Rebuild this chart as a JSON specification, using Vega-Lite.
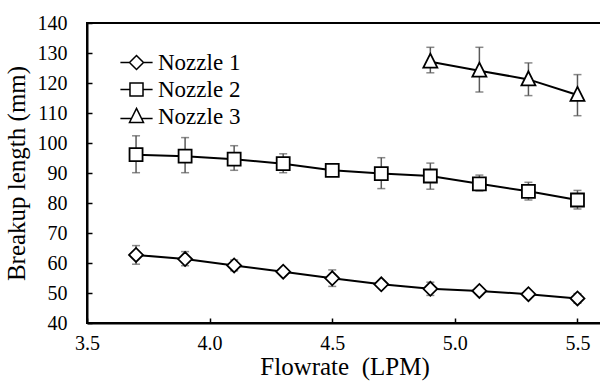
{
  "$schema": "https://vega.github.io/schema/vega-lite/v6.json",
  "autosize": "none",
  "width": 515,
  "height": 300,
  "padding": {"left": 87, "top": 23, "right": 0, "bottom": 62},
  "background": "white",
  "config": {
    "font": "serif",
    "view": {"stroke": "black", "strokeWidth": 2},
    "axis": {
      "domainColor": "black", "domainWidth": 2,
      "tickColor": "black", "tickWidth": 1.5, "tickSize": -5,
      "labelFont": "serif", "labelFontSize": 20, "labelColor": "black", "labelOverlap": false,
      "titleFont": "serif", "titleFontSize": 25, "titleFontWeight": "normal", "titleColor": "black",
      "grid": false
    },
    "legend": {
      "labelFont": "serif", "labelFontSize": 23, "labelColor": "black"
    }
  },
  "data": {"values": [
    {"nozzle": "Nozzle 1", "x": 3.7, "y": 62.7, "lo": 59.6, "hi": 65.8},
    {"nozzle": "Nozzle 1", "x": 3.9, "y": 61.3, "lo": 59.1, "hi": 63.8},
    {"nozzle": "Nozzle 1", "x": 4.1, "y": 59.2, "lo": 57.4, "hi": 61.0},
    {"nozzle": "Nozzle 1", "x": 4.3, "y": 57.1, "lo": 56.1, "hi": 58.1},
    {"nozzle": "Nozzle 1", "x": 4.5, "y": 54.9, "lo": 52.2, "hi": 57.7},
    {"nozzle": "Nozzle 1", "x": 4.7, "y": 52.9, "lo": 51.9, "hi": 53.9},
    {"nozzle": "Nozzle 1", "x": 4.9, "y": 51.4, "lo": 49.2, "hi": 53.6},
    {"nozzle": "Nozzle 1", "x": 5.1, "y": 50.7, "lo": 49.7, "hi": 51.7},
    {"nozzle": "Nozzle 1", "x": 5.3, "y": 49.6, "lo": 48.6, "hi": 50.6},
    {"nozzle": "Nozzle 1", "x": 5.5, "y": 48.2, "lo": 46.6, "hi": 49.8},
    {"nozzle": "Nozzle 2", "x": 3.7, "y": 96.1, "lo": 90.1, "hi": 102.4},
    {"nozzle": "Nozzle 2", "x": 3.9, "y": 95.6, "lo": 90.1, "hi": 101.8},
    {"nozzle": "Nozzle 2", "x": 4.1, "y": 94.6, "lo": 90.9, "hi": 99.1},
    {"nozzle": "Nozzle 2", "x": 4.3, "y": 93.1, "lo": 90.1, "hi": 96.4},
    {"nozzle": "Nozzle 2", "x": 4.5, "y": 90.9, "lo": 89.9, "hi": 91.9},
    {"nozzle": "Nozzle 2", "x": 4.7, "y": 89.8, "lo": 84.8, "hi": 95.1},
    {"nozzle": "Nozzle 2", "x": 4.9, "y": 89.0, "lo": 84.6, "hi": 93.3},
    {"nozzle": "Nozzle 2", "x": 5.1, "y": 86.4, "lo": 84.0, "hi": 89.3},
    {"nozzle": "Nozzle 2", "x": 5.3, "y": 83.9, "lo": 81.0, "hi": 86.9},
    {"nozzle": "Nozzle 2", "x": 5.5, "y": 81.0, "lo": 78.0, "hi": 84.2},
    {"nozzle": "Nozzle 3", "x": 4.9, "y": 127.1, "lo": 123.4, "hi": 131.9},
    {"nozzle": "Nozzle 3", "x": 5.1, "y": 124.1, "lo": 117.0, "hi": 131.9},
    {"nozzle": "Nozzle 3", "x": 5.3, "y": 121.2, "lo": 115.8, "hi": 126.7},
    {"nozzle": "Nozzle 3", "x": 5.5, "y": 116.0, "lo": 109.1, "hi": 122.8}
  ]},
  "encoding": {
    "x": {"field": "x", "type": "quantitative",
      "scale": {"domain": [3.5, 5.6], "nice": false, "zero": false},
      "axis": {"values": [3.5, 4, 4.5, 5, 5.5], "title": "Flowrate\u00a0\u00a0(LPM)", "labelPadding": 15, "titlePadding": 1, "labelFlush": false}},
    "y": {"field": "y", "type": "quantitative",
      "scale": {"domain": [40, 140], "nice": false, "zero": false},
      "axis": {"values": [40, 50, 60, 70, 80, 90, 100, 110, 120, 130, 140], "title": "Breakup length (mm)", "labelPadding": 25, "titlePadding": 8, "labelFlush": false}}
  },
  "layer": [
    {
      "mark": {"type": "rule", "color": "#595959", "strokeWidth": 1.5},
      "encoding": {
        "y": {"field": "lo", "type": "quantitative"},
        "y2": {"field": "hi"},
        "detail": {"field": "nozzle"}
      }
    },
    {
      "mark": {"type": "tick", "color": "#595959", "thickness": 1.5, "size": 8, "orient": "horizontal"},
      "encoding": {"y": {"field": "lo", "type": "quantitative"}}
    },
    {
      "mark": {"type": "tick", "color": "#595959", "thickness": 1.5, "size": 8, "orient": "horizontal"},
      "encoding": {"y": {"field": "hi", "type": "quantitative"}}
    },
    {
      "mark": {"type": "line", "color": "black", "strokeWidth": 2},
      "encoding": {
        "detail": {"field": "nozzle"}
      }
    },
    {
      "mark": {"type": "point", "filled": false, "fill": "white", "fillOpacity": 1, "stroke": "black", "strokeWidth": 1.8, "opacity": 1, "size": 196},
      "encoding": {
        "shape": {"field": "nozzle", "type": "nominal",
          "scale": {"domain": ["Nozzle 1", "Nozzle 2", "Nozzle 3"], "range": ["M-1,0L0,-1L1,0L0,1Z", "M-0.93,-0.93L0.93,-0.93L0.93,0.93L-0.93,0.93Z", "M0,-1.15L1,0.85L-1,0.85Z"]},
          "legend": null}
      }
    },
    {
      "mark": {"type": "point", "filled": false, "fill": "white", "fillOpacity": 1, "stroke": "black", "strokeWidth": 1.8, "opacity": 1, "size": 196, "clip": true},
      "encoding": {
        "x": {"datum": 3.0, "type": "quantitative"},
        "shape": {"field": "nozzle", "type": "nominal",
          "scale": {"domain": ["Nozzle 1", "Nozzle 2", "Nozzle 3"], "range": ["M-2.3,0L-1,0M1,0L2.3,0M-1,0L0,-1L1,0L0,1Z", "M-2.3,0L-0.93,0M0.93,0L2.3,0M-0.93,-0.93L0.93,-0.93L0.93,0.93L-0.93,0.93Z", "M-2.3,0.3L-0.75,0.3M0.75,0.3L2.3,0.3M0,-1.15L1,0.85L-1,0.85Z"]},
          "legend": {"title": null, "orient": "none", "legendX": 38, "legendY": 28, "symbolSize": 196, "labelOffset": 10, "rowPadding": 3,
            "labelFont": "serif", "labelFontSize": 23, "labelColor": "black",
            "encode": {"symbols": {"update": {"fill": {"value": "white"}, "stroke": {"value": "black"}, "strokeWidth": {"value": 1.8}, "opacity": {"value": 1}, "fillOpacity": {"value": 1}, "strokeOpacity": {"value": 1}}}}}}
      }
    }
  ],
  "resolve": {"scale": {"shape": "independent"}}
}
